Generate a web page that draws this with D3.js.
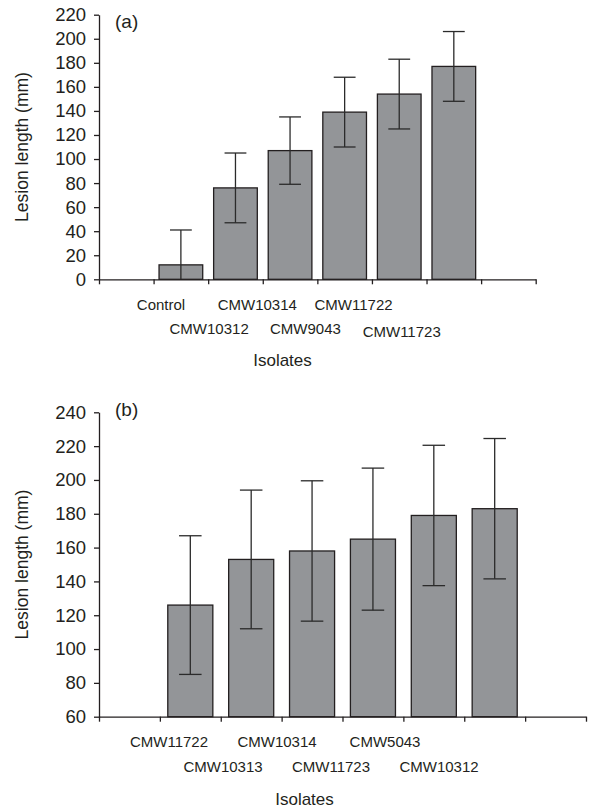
<!DOCTYPE html>
<html lang="en">
<head>
    <meta charset="UTF-8">
    <title>Lesion length by isolate</title>
    <style>
        body {
            margin: 0;
            background: #fff;
        }
        svg {
            display: block;
            font-family: "Liberation Sans", Arial, sans-serif;
        }
        .axis path, .axis line {
            stroke: #231f20;
            stroke-width: 1.3;
        }
        .axis text {
            fill: #231f20;
        }
        .bar {
            fill: #939598;
            stroke: #231f20;
            stroke-width: 1.3;
        }
        .err {
            stroke: #2b2b2b;
            stroke-width: 1.3;
            fill: none;
        }
    </style>
</head>
<body>
    <svg width="589" height="808" id="chart"></svg>

    <script src="https://d3js.org/d3.v7.min.js"></script>
    <script>
        // panel (a)
        const categoriesA = ["Control", "CMW10312", "CMW10314", "CMW9043", "CMW11722", "CMW11723"];
        const meansA = [12, 76, 107, 139, 154, 177];
        const errorsA = [29, 29, 28, 29, 29, 29];
        const ticksA = [0, 20, 40, 60, 80, 100, 120, 140, 160, 180, 200, 220];

        // panel (b)
        const categoriesB = ["CMW11722", "CMW10313", "CMW10314", "CMW11723", "CMW5043", "CMW10312"];
        const meansB = [126, 153, 158, 165, 179, 183];
        const errorsB = [41, 41, 41.5, 42, 41.5, 41.5];
        const ticksB = [60, 80, 100, 120, 140, 160, 180, 200, 220, 240];

        const svg = d3.select("#chart");

        // Draws one bar panel with error bars
        function drawPanel(p) {
            const g = svg.append("g").attr("transform", `translate(${p.left},${p.top})`);
            const w = p.width, h = p.height;

            // one empty slot before and after the bars
            const slots = ["pre", ...p.categories, "post"];
            const x = d3.scaleBand().domain(slots).range([0, w])
                .paddingInner(p.pad).paddingOuter(p.pad / 2);
            const slot = d3.scaleLinear().domain([0, slots.length]).range([0, w]);
            const y = d3.scaleLinear().domain(d3.extent(p.ticks)).range([h, 0]);

            const rows = p.categories.map((c, i) => ({ c, m: p.means[i], e: p.errors[i] }));

            g.selectAll("rect.bar").data(rows).enter().append("rect")
                .attr("class", "bar")
                .attr("x", d => x(d.c))
                .attr("width", x.bandwidth())
                .attr("y", d => y(d.m))
                .attr("height", d => h - y(d.m));

            const capW = x.bandwidth() / 2;
            const lo = y.domain()[0];
            rows.forEach(d => {
                const cx = x(d.c) + x.bandwidth() / 2;
                const top = d.m + d.e, bot = Math.max(lo, d.m - d.e);
                g.append("line").attr("class", "err")
                    .attr("x1", cx).attr("x2", cx).attr("y1", y(top)).attr("y2", y(bot));
                g.append("line").attr("class", "err")
                    .attr("x1", cx - capW / 2).attr("x2", cx + capW / 2).attr("y1", y(top)).attr("y2", y(top));
                if (d.m - d.e > lo) {
                    g.append("line").attr("class", "err")
                        .attr("x1", cx - capW / 2).attr("x2", cx + capW / 2).attr("y1", y(bot)).attr("y2", y(bot));
                }
            });

            g.append("g").attr("class", "axis")
                .attr("transform", `translate(0,${h})`)
                .call(d3.axisBottom(slot).tickValues(d3.range(slots.length + 1)).tickFormat("").tickSize(5).tickSizeOuter(0));

            g.append("g").attr("class", "axis")
                .call(d3.axisLeft(y).tickValues(p.ticks).tickSize(5).tickSizeOuter(0).tickPadding(8))
                .selectAll("text").style("font-size", "18.5px");

            // staggered category labels, shifted left like the original
            const lx = d3.scalePoint().domain(p.categories).range(p.labelRange);
            g.selectAll("text.cat").data(p.categories).enter().append("text")
                .attr("class", "cat")
                .attr("x", d => lx(d))
                .attr("y", (d, i) => h + (i % 2 === 0 ? p.row1 : p.row2) + (i === 5 ? p.lastDy : 0))
                .attr("text-anchor", "middle")
                .attr("fill", "#231f20")
                .style("font-size", "15px")
                .text(d => d);

            g.append("text")
                .attr("x", p.titleX)
                .attr("y", h + p.titleY)
                .attr("text-anchor", "middle")
                .attr("fill", "#231f20")
                .style("font-size", "17px")
                .text("Isolates");

            g.append("text")
                .attr("transform", `translate(${-p.left + 28},${h / 2}) rotate(-90)`)
                .attr("text-anchor", "middle")
                .attr("fill", "#231f20")
                .style("font-size", "17.5px")
                .text("Lesion length (mm)");

            g.append("text")
                .attr("x", 16)
                .attr("y", p.tagY)
                .attr("fill", "#231f20")
                .style("font-size", "19px")
                .text(p.tag);
        }

        drawPanel({
            tag: "(a)", categories: categoriesA, means: meansA, errors: errorsA, ticks: ticksA,
            left: 99, top: 14.7, width: 436.7, height: 264.6, pad: 0.2,
            labelRange: [62, 302.7], row1: 31, row2: 55, lastDy: 2.5,
            titleX: 183.5, titleY: 87, tagY: 13.5
        });

        drawPanel({
            tag: "(b)", categories: categoriesB, means: meansB, errors: errorsB, ticks: ticksB,
            left: 99, top: 412.3, width: 487, height: 304.4, pad: 0.26,
            labelRange: [70, 340], row1: 30, row2: 55, lastDy: 0,
            titleX: 205.5, titleY: 88, tagY: 4
        });
    </script>
</body>
</html>
